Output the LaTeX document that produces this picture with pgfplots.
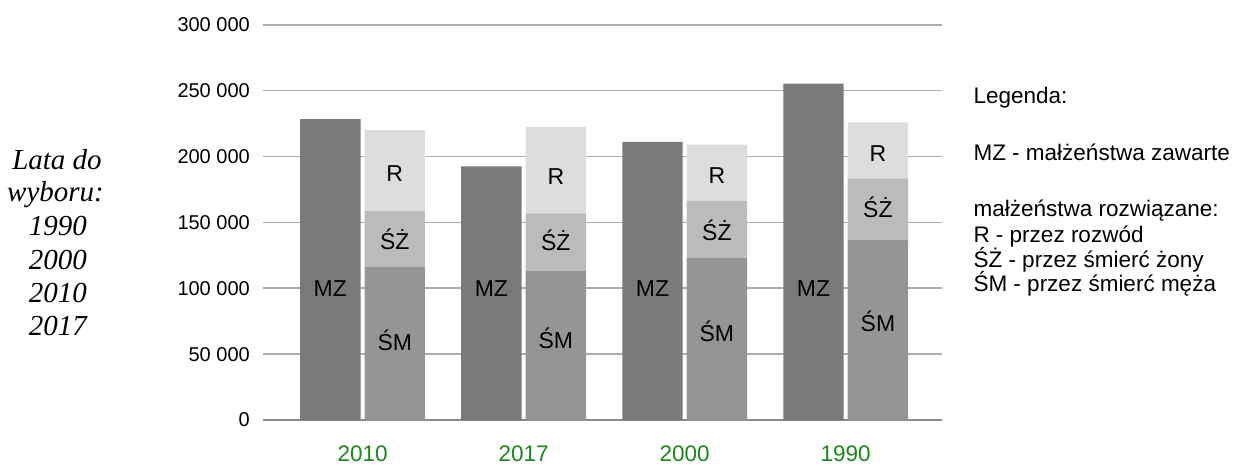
\documentclass[border=0pt]{standalone}
\usepackage{pgfplots}
\pgfplotsset{compat=1.18}
\usepackage{fontspec}
\setmainfont{Liberation Sans}
\newfontfamily\timesfont{Liberation Serif}
\definecolor{cMZ}{RGB}{122,122,122}
\definecolor{cSM}{RGB}{149,149,149}
\definecolor{cSZ}{RGB}{187,187,187}
\definecolor{cR}{RGB}{221,221,221}
\definecolor{gridgray}{RGB}{172,172,172}
\definecolor{axisgray}{RGB}{140,140,140}
\definecolor{yeargreen}{RGB}{28,135,28}
\tikzset{barlbl/.style={anchor=base, inner sep=0pt, font=\fontsize{23}{27}\selectfont},
  leglbl/.style={anchor=base west, inner sep=0pt, font=\fontsize{22.5}{27}\selectfont},
  leftlbl/.style={anchor=base, inner sep=0pt, font=\timesfont\itshape\fontsize{29}{33}\selectfont}}
\pgfplotsset{overlay/.style={
  at={(262.7pt,44pt)}, anchor=south west,
  scale only axis, width=679pt, height=395.3pt,
  xmin=-0.62, xmax=3.596, ymin=0, ymax=300000, clip=false}}
\begin{document}
\begin{tikzpicture}[x=1pt,y=1pt]
\useasboundingbox (0,0) rectangle (1242,464);
% main axis: grid, ticks, MZ bars
\begin{axis}[
  overlay,
  axis lines=left,
  x axis line style={-, draw=axisgray, line width=1.8pt},
  y axis line style={draw=none},
  major tick length=0pt,
  ymajorgrids, grid style={draw=gridgray, line width=1.6pt},
  scaled y ticks=false,
  ytick={0,50000,100000,150000,200000,250000,300000},
  yticklabels={0,50 000,100 000,150 000,200 000,250 000,300 000},
  yticklabel style={font=\fontsize{20}{24}\selectfont, anchor=east, inner sep=0pt, xshift=-12.7pt},
  xtick={0,1,2,3},
  xticklabels={2010,2017,2000,1990},
  xticklabel style={font=\fontsize{22.5}{26}\selectfont, text=yeargreen, anchor=base, inner sep=0pt, yshift=-41pt},
]
\addplot[ybar, bar width=0.375, bar shift=-0.2, fill=cMZ, draw=none]
  coordinates {(0,228337) (1,192576) (2,211150) (3,255369)};
\end{axis}
% overlay axis: stacked bars
\begin{axis}[
  overlay, hide axis,
  ybar stacked, bar width=0.375, bar shift=0.2,
]
% SM - przez smierc meza
\addplot[fill=cSM, draw=none] coordinates {(0,116300) (1,113300) (2,122900) (3,136600)};
% SZ - przez smierc zony
\addplot[fill=cSZ, draw=none] coordinates {(0,42300) (1,43600) (2,43300) (3,46800)};
% R - przez rozwod
\addplot[fill=cR, draw=none] coordinates {(0,61300) (1,65475) (2,42770) (3,42436)};
\end{axis}
% overlay axis: bar labels
\begin{axis}[overlay, hide axis]
\addplot[draw=none, mark=none] coordinates {(0,0) (3,0)};
\node[barlbl] at (axis cs:-0.2,94100) {MZ};
\node[barlbl] at (axis cs:0.8,94100) {MZ};
\node[barlbl] at (axis cs:1.8,94100) {MZ};
\node[barlbl] at (axis cs:2.8,94100) {MZ};
\node[barlbl] at (axis cs:0.2,52400) {ŚM};
\node[barlbl] at (axis cs:1.2,54400) {ŚM};
\node[barlbl] at (axis cs:2.2,59400) {ŚM};
\node[barlbl] at (axis cs:3.2,67500) {ŚM};
\node[barlbl] at (axis cs:0.2,129500) {ŚŻ};
\node[barlbl] at (axis cs:1.2,129000) {ŚŻ};
\node[barlbl] at (axis cs:2.2,136600) {ŚŻ};
\node[barlbl] at (axis cs:3.2,153800) {ŚŻ};
\node[barlbl] at (axis cs:0.2,180800) {R};
\node[barlbl] at (axis cs:1.2,178900) {R};
\node[barlbl] at (axis cs:2.2,179600) {R};
\node[barlbl] at (axis cs:3.2,196000) {R};
\end{axis}
% legend text
\node[leglbl] at (973.3,360.7) {Legenda:};
\node[leglbl] at (973.3,303) {MZ - małżeństwa zawarte};
\node[leglbl] at (973.3,247.3) {małżeństwa rozwiązane:};
\node[leglbl] at (973.3,221.7) {R - przez rozwód};
\node[leglbl] at (973.3,196.3) {ŚŻ - przez śmierć żony};
\node[leglbl] at (973.3,172.3) {ŚM - przez śmierć męża};
% left text
\node[leftlbl] at (57,294.7) {Lata do};
\node[leftlbl] at (55.5,262.3) {wyboru:};
\node[leftlbl] at (57.8,228) {1990};
\node[leftlbl] at (57.8,194.7) {2000};
\node[leftlbl] at (57.8,161.3) {2010};
\node[leftlbl] at (57.8,129) {2017};
\end{tikzpicture}
\end{document}
